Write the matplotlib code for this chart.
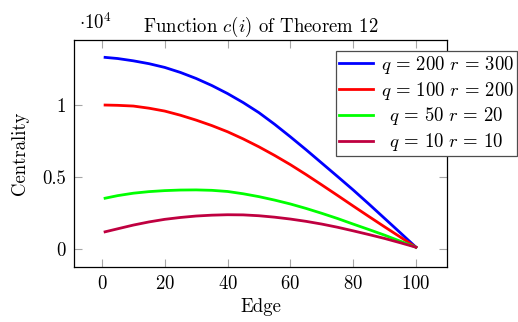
import matplotlib
matplotlib.use("Agg")
from matplotlib import pyplot as plt

plt.rcParams['font.family'] = 'serif'
plt.rcParams['font.serif'] = ['cmr10']
plt.rcParams['mathtext.fontset'] = 'cm'
plt.rcParams['axes.formatter.use_mathtext'] = True

# edge index
edges = [1, 5, 10, 15, 20, 25, 30, 35, 40, 45, 50,
         55, 60, 65, 70, 75, 80, 85, 90, 95, 100]

# centrality values
c_200_300 = [13340, 13260, 13100, 12900, 12640, 12290, 11870, 11380, 10820, 10190, 9490,
             8680, 7810, 6910, 5980, 5050, 4110, 3130, 2130, 1130, 120]
c_100_200 = [10020, 10000, 9950, 9800, 9600, 9310, 8970, 8590, 8160, 7660, 7110,
             6510, 5870, 5180, 4460, 3730, 2990, 2260, 1540, 830, 120]
c_50_20 = [3530, 3710, 3880, 3990, 4060, 4100, 4110, 4080, 4000, 3840, 3640,
           3400, 3130, 2820, 2480, 2120, 1730, 1350, 960, 540, 120]
c_10_10 = [1190, 1400, 1660, 1880, 2060, 2190, 2290, 2350, 2380, 2370, 2310,
           2210, 2080, 1920, 1730, 1510, 1260, 1000, 730, 430, 120]

series = [c_200_300, c_100_200, c_50_20, c_10_10]
labels = [r'$q\,=\,200\ r\,=\,300$', r'$q\,=\,100\ r\,=\,200$',
          r'$\enspace q\,=\,50\ r\,=\,20$', r'$\enspace q\,=\,10\ r\,=\,10$']
colors = ['#0000ff', '#ff0000', '#00ff00', '#bf0040']

fs = 13.5
fig = plt.figure(figsize=(5.18, 3.22), dpi=100)
ax = fig.add_axes([74/518, 1-267/322, (447-74)/518, (267-40)/322])

lines = []
for ys, lab, col in zip(series, labels, colors):
    l, = ax.plot(edges, ys, color=col, lw=2, label=lab)
    lines.append(l)

ax.set_xlim(-8.9, 109.9)
ax.set_ylim(-1260, 14550)
ax.set_xticks([0, 20, 40, 60, 80, 100])
ax.set_yticks([0, 5000, 10000])
ax.set_yticklabels(['0', '0.5', '1'])
ax.tick_params(direction='in', length=6, width=0.8, color='0.65',
               top=True, right=True, labelsize=fs, pad=6)
for s in ax.spines.values():
    s.set_linewidth(0.9)

ax.set_title(r'Function $c(i)$ of Theorem 12', fontsize=fs, pad=6)
ax.set_xlabel('Edge', fontsize=fs, labelpad=3)
ax.set_ylabel('Centrality', fontsize=fs, labelpad=9)
fig.text(79/518, 1-29/322, r'$\cdot 10^4$', fontsize=fs)

leg = fig.legend(handles=lines, loc='upper left',
                 bbox_to_anchor=(336/518, 1-51/322), bbox_transform=fig.transFigure,
                 fontsize=fs, fancybox=False, framealpha=1, edgecolor='0.3',
                 handlelength=1.8, handletextpad=0.45, labelspacing=0.2,
                 borderpad=0.15, borderaxespad=0)
leg.get_frame().set_linewidth(0.9)

fig.savefig('out.png', dpi=100)
